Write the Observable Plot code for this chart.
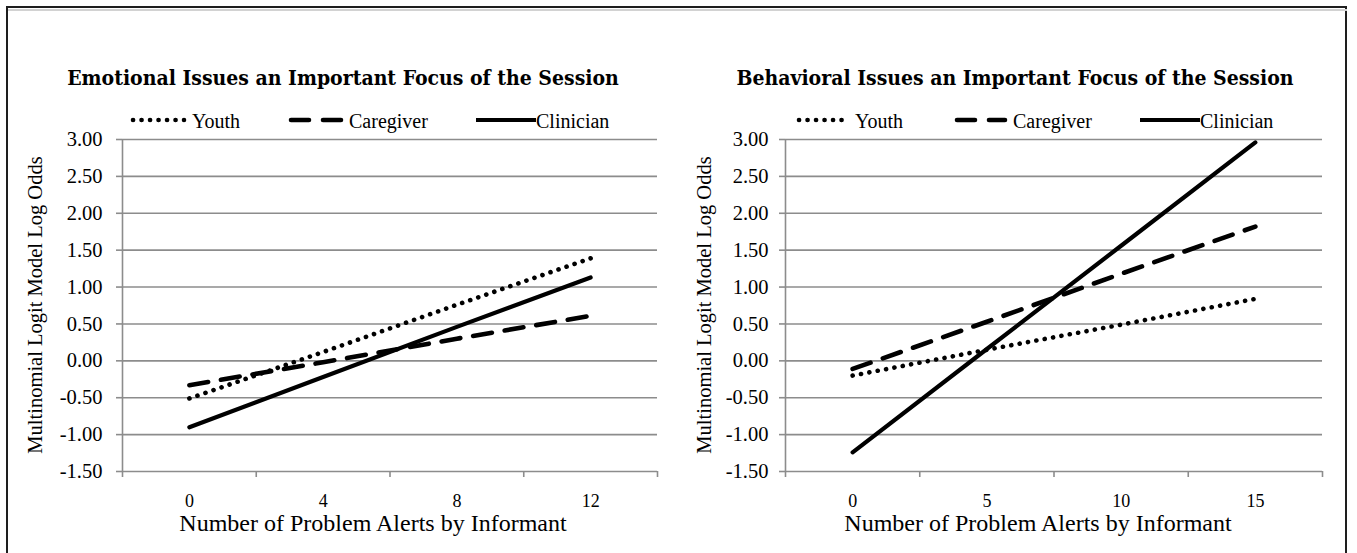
<!DOCTYPE html>
<html>
<head>
<meta charset="utf-8">
<script src="https://cdn.jsdelivr.net/npm/d3@7"></script>
<script src="https://cdn.jsdelivr.net/npm/@observablehq/plot@0.6"></script>
<style>
  body { margin: 0; background: #fff; }
  #wrap { position: relative; width: 1357px; height: 553px; overflow: hidden; background: #fff;
          font-family: "Liberation Serif", "Times New Roman", serif; color: #000; }
  .frame { position: absolute; left: 6px; top: 6px; width: 1341px; height: 600px; border: 2px solid #1e1e1e; box-sizing: border-box; }
  .frameInner { position: absolute; left: 8px; top: 9px; width: 1339px; height: 2px; background: #d2d2d2; }
  .panel { position: absolute; top: 0; }
  .title { position: absolute; white-space: nowrap; transform: translateX(-50%);
           font-family: "DejaVu Serif Condensed", "DejaVu Serif", serif; font-weight: bold; font-size: 21px; line-height: 1; }
  .xlabel { position: absolute; white-space: nowrap; transform: translateX(-50%); font-size: 24px; line-height: 0.85; }
  .ylabel { position: absolute; white-space: nowrap; font-size: 20.5px; line-height: 1;
            transform: translate(-50%, -50%) rotate(-90deg); }
  .lg { position: absolute; }
  .lgtext { position: absolute; font-size: 20px; line-height: 1; white-space: nowrap; }
</style>
</head>
<body>
<div id="wrap">
  <div class="frame"></div>
  <div class="frameInner"></div>
</div>
<script>
// ---------------- data ----------------
const informants = ["Youth", "Caregiver", "Clinician"];

const emotionalAlerts = [0, 4, 8, 12];
const emotionalYouth = [-0.51, 0.12, 0.76, 1.39];
const emotionalCaregiver = [-0.33, -0.02, 0.30, 0.61];
const emotionalClinician = [-0.90, -0.22, 0.46, 1.13];

const behavioralAlerts = [0, 5, 10, 15];
const behavioralYouth = [-0.20, 0.15, 0.49, 0.84];
const behavioralCaregiver = [-0.11, 0.53, 1.18, 1.82];
const behavioralClinician = [-1.24, 0.16, 1.56, 2.96];

const yTicks = [-1.5, -1.0, -0.5, 0, 0.5, 1.0, 1.5, 2.0, 2.5, 3.0];
const emotionalTickMarks = [-2, 2, 6, 10, 14];
const behavioralTickMarks = [-2.5, 2.5, 7.5, 12.5, 17.5];

const emotionalTitle = "Emotional Issues an Important Focus of the Session";
const behavioralTitle = "Behavioral Issues an Important Focus of the Session";
const xLabel = "Number of Problem Alerts by Informant";
const yLabel = "Multinomial Logit Model Log Odds";

// ---------------- styles ----------------
const gridColor = "#8c8c8c";
const lineStyles = {
  Youth: {strokeWidth: 4.6, strokeDasharray: "0.1 8.4", strokeLinecap: "round"},
  Caregiver: {strokeWidth: 4.6, strokeDasharray: "19 13", strokeLinecap: "round"},
  Clinician: {strokeWidth: 4.2, strokeDasharray: null, strokeLinecap: "round"}
};

function buildRows(alerts, seriesList) {
  const rows = [];
  informants.forEach((name, k) => {
    alerts.forEach((a, i) => rows.push({informant: name, alerts: a, value: seriesList[k][i]}));
  });
  return rows;
}

function makePanel({alerts, series, xDomain, tickMarks, width, marginLeft, marginRight, yTickPadding}) {
  const rows = buildRows(alerts, series);
  return Plot.plot({
    width,
    height: 553,
    marginLeft,
    marginRight,
    marginTop: 139,
    marginBottom: 82,
    style: {fontFamily: "'Liberation Serif', 'Times New Roman', serif", background: "transparent", overflow: "visible"},
    x: {domain: xDomain},
    y: {domain: [-1.5, 3]},
    marks: [
      Plot.ruleY(yTicks, {stroke: gridColor, strokeWidth: 1.6}),
      Plot.ruleX([xDomain[0]], {stroke: gridColor, strokeWidth: 1.6}),
      Plot.axisY({ticks: yTicks, tickFormat: d => d.toFixed(2), tickSize: 6, tickPadding: yTickPadding,
                  stroke: gridColor, strokeWidth: 1.6, fill: "#000", fontSize: 20.5, label: null}),
      Plot.axisX({ticks: tickMarks, tickFormat: () => "", tickSize: 6, stroke: gridColor, strokeWidth: 1.6, label: null}),
      Plot.axisX({ticks: alerts, tickSize: 0, tickPadding: 23, fill: "#000", fontSize: 18, label: null}),
      ...informants.map(name => Plot.line(rows.filter(r => r.informant === name), {
        x: "alerts", y: "value", stroke: "#000", ...lineStyles[name]
      }))
    ]
  });
}

const wrap = document.getElementById("wrap");

function place(el, left) {
  const d = document.createElement("div");
  d.className = "panel";
  d.style.left = left + "px";
  d.appendChild(el);
  wrap.appendChild(d);
}

place(makePanel({
  alerts: emotionalAlerts,
  series: [emotionalYouth, emotionalCaregiver, emotionalClinician],
  xDomain: [-2, 14], tickMarks: emotionalTickMarks,
  width: 678, marginLeft: 122, marginRight: 21, yTickPadding: 14
}), 0);

place(makePanel({
  alerts: behavioralAlerts,
  series: [behavioralYouth, behavioralCaregiver, behavioralClinician],
  xDomain: [-2.5, 17.5], tickMarks: behavioralTickMarks,
  width: 679, marginLeft: 107, marginRight: 35, yTickPadding: 11
}), 678);

// ---------------- titles, labels, legends ----------------
function addText(cls, text, left, top) {
  const d = document.createElement("div");
  d.className = cls;
  d.textContent = text;
  d.style.left = left + "px";
  d.style.top = top + "px";
  wrap.appendChild(d);
  return d;
}

addText("title", emotionalTitle, 343, 67);
addText("title", behavioralTitle, 1015, 67);
addText("xlabel", xLabel, 373, 513);
addText("xlabel", xLabel, 1038, 513);
addText("ylabel", yLabel, 35, 305);
addText("ylabel", yLabel, 704, 305);

function addLegend(items) {
  items.forEach(({name, x0, x1, tx}) => {
    const svg = d3.create("svg")
      .attr("class", "lg")
      .attr("width", x1 - x0 + 10)
      .attr("height", 20)
      .style("left", (x0 - 5) + "px")
      .style("top", "110px");
    const st = lineStyles[name];
    svg.append("line")
      .attr("x1", 5 + (st.strokeDasharray ? 2 : 0)).attr("x2", x1 - x0 + 5 - (st.strokeDasharray ? 2 : 0))
      .attr("y1", 10).attr("y2", 10)
      .attr("stroke", "#000")
      .attr("stroke-width", st.strokeWidth)
      .attr("stroke-linecap", st.strokeDasharray ? "round" : "butt")
      .attr("stroke-dasharray", name === "Caregiver" ? "18 14" : st.strokeDasharray);
    wrap.appendChild(svg.node());
    addText("lgtext", name, tx, 111);
  });
}

addLegend([
  {name: "Youth", x0: 131, x1: 186, tx: 192},
  {name: "Caregiver", x0: 289, x1: 343, tx: 349},
  {name: "Clinician", x0: 476, x1: 536, tx: 536}
]);
addLegend([
  {name: "Youth", x0: 797, x1: 848, tx: 855},
  {name: "Caregiver", x0: 955, x1: 1007, tx: 1013},
  {name: "Clinician", x0: 1140, x1: 1200, tx: 1200}
]);
</script>
</body>
</html>
